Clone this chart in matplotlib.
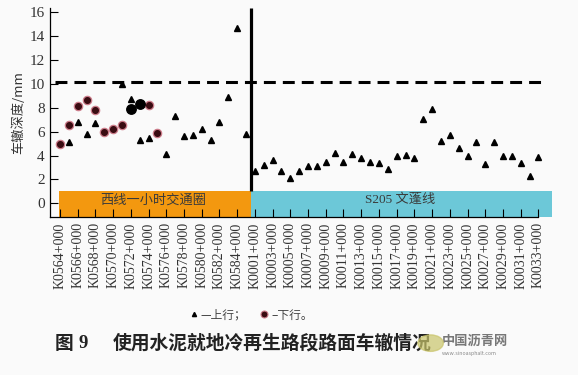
import numpy as np
import matplotlib.pyplot as plt
from matplotlib.lines import Line2D
from matplotlib.patches import Circle

plt.rcParams['font.family'] = ['Noto Sans CJK SC', 'DejaVu Sans']

# stations: west line (K0564..K0585) then S205 (K0001..K0033)
west_stations = ["K0%d+000" % k for k in range(564, 586)]
s205_stations = ["K%04d+000" % k for k in range(1, 34)]
stations = west_stations + s205_stations

nan = np.nan
# 上行 rut depth (mm)
up_west = [nan, 5.1, 6.8, 5.8, 6.7, nan, nan, 10.0, 8.7, 5.3, 5.5, nan,
           4.1, 7.3, 5.6, 5.7, 6.2, 5.3, 6.8, 8.9, 14.7, 5.8]
up_s205 = [2.7, 3.2, 3.6, 2.7, 2.15, 2.7, 3.1, 3.1, 3.5, 4.2, 3.5, 4.1,
           3.8, 3.5, 3.4, 2.85, 4.0, 4.05, 3.8, 7.1, 7.9, 5.2, 5.75, 4.65,
           4.0, 5.15, 3.3, 5.1, 4.0, 4.0, 3.4, 2.3, 3.85]
# 下行 rut depth (mm), west line only
down_west = [5.0, 6.6, 8.15, 8.65, 7.8, 6.0, 6.2, 6.6, 7.9, 8.3, 8.25, 5.9]
down_black = ["K0572+000", "K0573+000"]

limit_depth = 10.13
band_names = ["西线一小时交通圈", "S205 文蓬线"]

up = np.array(up_west + up_s205)
down = np.array(down_west + [nan] * (len(stations) - len(down_west)))
x = np.arange(len(stations))
is_black = np.array([s in down_black for s in stations])
split = len(west_stations) - 0.4

bg = '#fafafa'
fig = plt.figure(figsize=(5.78, 3.75), dpi=100, facecolor=bg)
ax = fig.add_axes([0.0869, 0.4221, 0.8676, 0.5563], facecolor=bg)

ymin, ymax = -1.12, 16.35
xmin, xmax = -1.1, len(stations) + 0.5

# road section bands
ax.fill_between([-0.15, split], ymin, 1.0, color='#f3980f', lw=0, zorder=1)
ax.fill_between([split, xmax], ymin, 1.0, color='#6cc8d8', lw=0, zorder=1)
ax.text((len(west_stations) - 1) / 2, 0.3, band_names[0], ha='center', va='center',
        fontsize=9.5, color='#3a3a3a', zorder=3)
ax.text(x[len(west_stations):].mean() + 0.4, 0.3, band_names[1], ha='center', va='center',
        fontsize=9.5, color='#3a3a3a', zorder=3,
        family=['Liberation Serif', 'Noto Sans CJK SC'])

ax.vlines(split, 1.0, ymax, color='black', lw=2.3, zorder=2)
ax.plot([-0.56, x[-1] + 0.95], [limit_depth] * 2, color='black', lw=2.2,
        dashes=(3.9, 2.3), zorder=2)

ax.plot(x, up, ls='none', marker='^', ms=4.2, color='black', zorder=4)
m = ~is_black
ax.plot(x[m], down[m], ls='none', marker='o', ms=6.0, mfc='#3a0c12',
        mec='#cc7c8a', mew=0.9, zorder=5)
ax.plot(x[is_black], down[is_black], ls='none', marker='o', ms=6.8,
        color='black', zorder=5)

ax.set_xlim(xmin, xmax)
ax.set_ylim(ymin, ymax)
ax.set_yticks(range(0, 17, 2))
ax.set_xticks(x[::2])
ax.set_xticklabels(stations[::2], rotation=90, family='Liberation Serif',
                   fontsize=10, color='#333333')
for lab in ax.get_yticklabels():
    lab.set_family('Liberation Serif')
    lab.set_fontsize(11)
    lab.set_color('#333333')
ax.tick_params(direction='in', length=6, width=0.8, color='black')
ax.tick_params(axis='x', pad=4)
ax.tick_params(axis='y', pad=4)

for s in ['top', 'right']:
    ax.spines[s].set_visible(False)
ax.spines['left'].set_linewidth(0.9)
ax.spines['bottom'].set_linewidth(0.9)
ax.spines['bottom'].set_bounds(xmin, x[-1])
ax.set_ylabel('车辙深度/mm', fontsize=9.5, color='#333333', labelpad=3)

# legend
h_up = Line2D([], [], ls='none', marker='^', ms=3, color='black')
h_dn = Line2D([], [], ls='none', marker='o', ms=5, mfc='#3a0c12', mec='#cc7c8a', mew=0.8)
fig.legend([h_up, h_dn], ['—上行；', '–下行。'], ncol=2, frameon=False,
           loc='center', bbox_to_anchor=(0.435, 0.16), fontsize=8.5,
           handlelength=0.6, handletextpad=0.3, columnspacing=1.2,
           labelcolor='#444444')

# caption
fig.text(0.095, 0.085, '图', fontsize=13.5, weight='bold', color='#222222', va='center')
fig.text(0.136, 0.085, '9', fontsize=13.5, weight='bold', color='#222222', va='center',
         family='Liberation Serif')
fig.text(0.195, 0.085, '使用水泥就地冷再生路段路面车辙情况', fontsize=13.5, weight='bold',
         color='#222222', va='center')

# watermark
fig.add_artist(Circle((0.745, 0.085), 0.022, transform=fig.transFigure,
                      color='#c9c46a', alpha=0.7, zorder=6))
fig.text(0.765, 0.092, '中国沥青网', fontsize=9.5, weight='bold', color='#777777', va='center')
fig.text(0.765, 0.058, 'www.sinoasphalt.com', fontsize=3.8, color='#888888', va='center')

fig.savefig('out.png', dpi=100, facecolor=bg)
